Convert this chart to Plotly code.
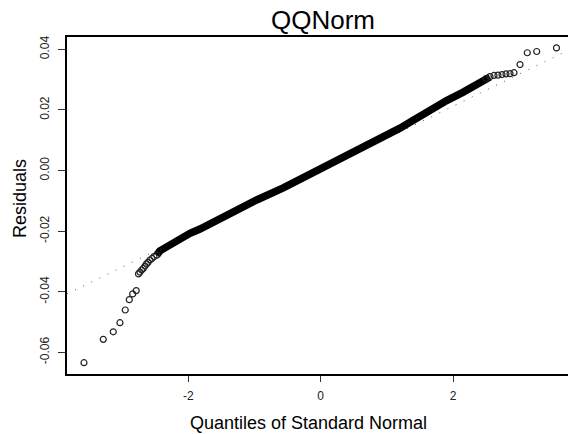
import plotly.graph_objects as go

# ---- data (theoretical quantile, residual) ----
tail_lo_q = [-3.576, -3.284, -3.133, -3.032, -2.952, -2.891, -2.840, -2.786,
             -2.752, -2.730, -2.704, -2.680, -2.654, -2.631, -2.609, -2.579,
             -2.548, -2.518, -2.477]
tail_lo_r = [-0.0634, -0.0557, -0.0532, -0.0502, -0.0460, -0.0426, -0.0407, -0.0396,
             -0.0341, -0.0335, -0.0328, -0.0323, -0.0315, -0.0308, -0.0303, -0.0295,
             -0.0290, -0.0284, -0.0279]

body_q = [-2.477, -2.428, -2.352, -2.277, -2.175, -2.080, -1.974, -1.823, -1.672,
          -1.476, -1.269, -0.967, -0.565, -0.060, 0.443, 0.946, 1.198, 1.399,
          1.649, 1.903, 2.154, 2.356, 2.456, 2.557]
body_r = [-0.0279, -0.0265, -0.0255, -0.0245, -0.0231, -0.0219, -0.0207, -0.0193, -0.0175,
          -0.0153, -0.0130, -0.0097, -0.0057, -0.0001, 0.0051, 0.0110, 0.0140, 0.0166,
          0.0200, 0.0231, 0.0259, 0.0281, 0.0297, 0.0309]

tail_hi_q = [2.497, 2.557, 2.618, 2.678, 2.739, 2.799, 2.860, 2.920, 3.011, 3.121, 3.263, 3.562]
tail_hi_r = [0.0304, 0.0310, 0.0314, 0.0315, 0.0317, 0.0319, 0.0320, 0.0323, 0.0350, 0.0389, 0.0393, 0.0405]

qqline_slope = 0.01062
qqline_intercept = 0.0

x_tickvals = [-2, 0, 2]
x_ticktext = ["-2", "0", "2"]
y_tickvals = [-0.06, -0.04, -0.02, 0.00, 0.02, 0.04]
y_ticktext = ["-0.06", "-0.04", "-0.02", "0.00", "0.02", "0.04"]

title_text = "QQNorm"
xlab_text = "Quantiles of Standard Normal"
ylab_text = "Residuals"

# ---- figure ----
x_range = [-3.832, 3.736]
y_range = [-0.06713, 0.04409]

fig = go.Figure()

line_x = [x_range[0], x_range[1]]
line_y = [qqline_intercept + qqline_slope * v for v in line_x]
fig.add_trace(go.Scatter(x=line_x, y=line_y, mode="lines",
                         line=dict(color="#555", width=1, dash="1px,8px"),
                         hoverinfo="skip"))

fig.add_trace(go.Scatter(x=body_q, y=body_r, mode="lines",
                         line=dict(color="black", width=7.5),
                         hoverinfo="skip"))

for qs, rs in ((tail_lo_q, tail_lo_r), (tail_hi_q, tail_hi_r)):
    fig.add_trace(go.Scatter(x=qs, y=rs, mode="markers",
                             marker=dict(symbol="circle-open", size=6,
                                         color="#222", line=dict(width=1.2, color="#222")),
                             hoverinfo="skip"))

W, H = 568, 434
L, R, T, B = 67, 0, 37, 60
pw, ph = W - L - R, H - T - B

def px2paper(px, py):
    return (px - L) / pw, (H - B - py) / ph

font_family = "Liberation Sans, Arial, sans-serif"

fig.update_layout(
    width=W, height=H,
    margin=dict(l=L, r=R, t=T, b=B, pad=0),
    paper_bgcolor="white", plot_bgcolor="white",
    showlegend=False,
    font=dict(family=font_family, color="#222", size=12),
    xaxis=dict(range=x_range, showgrid=False, zeroline=False,
               showline=True, linecolor="black", linewidth=2, mirror=True,
               ticks="outside", ticklen=6, tickwidth=1.3, tickcolor="#333",
               tickvals=x_tickvals, ticktext=x_ticktext,
               tickfont=dict(size=12, color="#222"), ticklabelstandoff=4),
    yaxis=dict(range=y_range, showgrid=False, zeroline=False,
               showline=True, linecolor="black", linewidth=2,
               ticks="outside", ticklen=7, tickwidth=1.3, tickcolor="#333",
               tickvals=y_tickvals, ticktext=y_ticktext, tickangle=-90,
               tickfont=dict(size=12, color="#222"), ticklabelstandoff=4),
)

ax, ay = px2paper(323, 20)
fig.add_annotation(text=title_text, x=ax, y=ay, xref="paper", yref="paper",
                   showarrow=False, xanchor="center", yanchor="middle",
                   font=dict(size=26, color="black", family=font_family))
ax, ay = px2paper(308, 423)
fig.add_annotation(text=xlab_text, x=ax, y=ay, xref="paper", yref="paper",
                   showarrow=False, xanchor="center", yanchor="middle",
                   font=dict(size=18, color="black", family=font_family))
ax, ay = px2paper(20, 199)
fig.add_annotation(text=ylab_text, x=ax, y=ay, xref="paper", yref="paper",
                   showarrow=False, xanchor="center", yanchor="middle", textangle=-90,
                   font=dict(size=18, color="black", family=font_family))

fig.write_html("out.html")
